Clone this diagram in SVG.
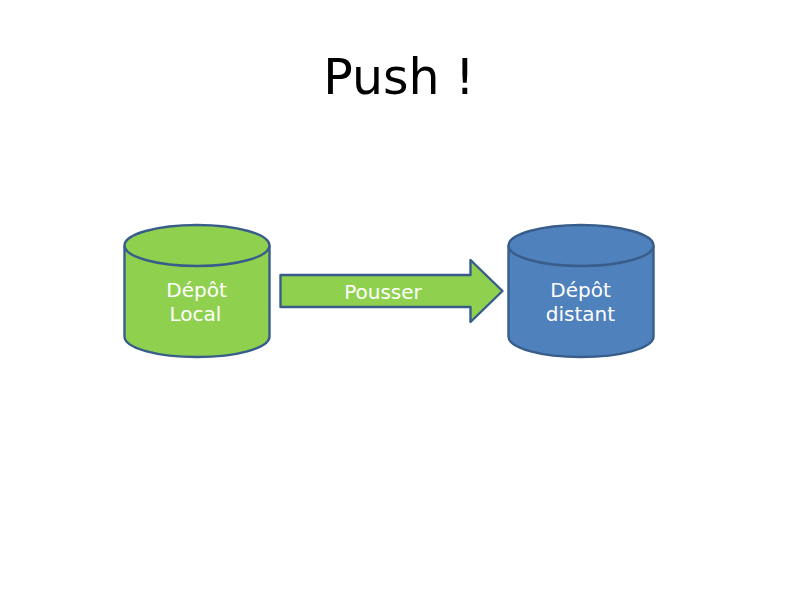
<svg xmlns="http://www.w3.org/2000/svg" width="800" height="600" viewBox="0 0 800 600">
<style>
.s{stroke:#385d8a;stroke-width:2.400;stroke-linejoin:round}
.g{fill:#8fd14f}.b{fill:#4f81bd}
.t{font-family:"DejaVu Sans",sans-serif;font-size:20px;fill:#fff;text-anchor:middle}
</style>
<rect width="800" height="600" fill="#fff"/>
<text id="title" x="399" y="94" text-anchor="middle" font-family="DejaVu Sans, sans-serif" font-size="49" fill="#000">Push !</text>
<g id="local">
<path class="s g" d="M124.500 245.500V336.500C124.500 348 157 357 197 357S269.500 348 269.500 336.500V245.500"/>
<ellipse class="s g" cx="197" cy="245.500" rx="72.500" ry="20.500"/>
<text class="t" x="196.500" y="297">Dépôt</text>
<text class="t" x="195.500" y="321">Local</text>
</g>
<g id="connectors">
<path id="arrow" class="s g" d="M280.500 275H470.500V260L502.500 291L470.500 322V307H280.500Z"/>
<text class="t" x="383" y="299">Pousser</text>
</g>
<g id="remote">
<path class="s b" d="M508.500 245.500V336.500C508.500 348 541 357 581 357S653.500 348 653.500 336.500V245.500"/>
<ellipse class="s b" cx="581" cy="245.500" rx="72.500" ry="20.500"/>
<text class="t" x="580.500" y="297">Dépôt</text>
<text class="t" x="580.500" y="321">distant</text>
</g>
</svg>
